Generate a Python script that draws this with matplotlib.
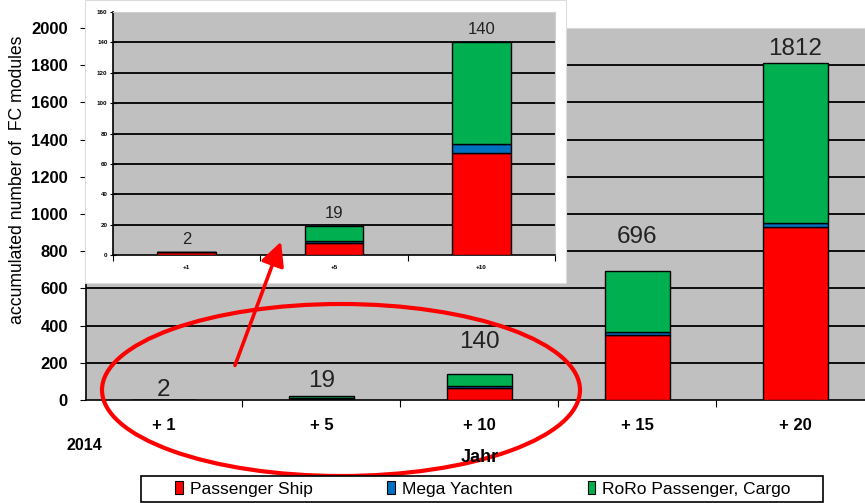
import matplotlib
matplotlib.use("Agg")
import matplotlib.pyplot as plt
import numpy as np
from matplotlib.patches import Rectangle, Ellipse, FancyArrowPatch, Patch

plt.rcParams["font.family"] = ["Liberation Sans", "DejaVu Sans"]

# data
categories = ["+ 1", "+ 5", "+ 10", "+ 15", "+ 20"]
passenger_ship = [2, 8, 67, 352, 930]
mega_yachten = [0, 1, 6, 15, 22]
roro = [0, 10, 67, 329, 860]
totals = [2, 19, 140, 696, 1812]
series_names = ["Passenger Ship", "Mega Yachten", "RoRo Passenger, Cargo"]

# styling / layout
colors = ["#ff0000", "#0070c0", "#00b050"]
GRAY = "#c0c0c0"
W, H = 865, 503
label_lift = [7, 11, 23, 24, 10]  # points above bar top, main chart
inset_n = 3


def fx(px):
    return px / W


def fy(py):
    return 1 - py / H


def stacked(ax, n, width, lw):
    x = np.arange(n)
    bottom = np.zeros(n)
    for vals, col in zip([passenger_ship, mega_yachten, roro], colors):
        v = np.array(vals[:n], dtype=float)
        ax.bar(x, v, width, bottom=bottom, color=col, edgecolor="black", linewidth=lw, zorder=3)
        bottom += v
    return x


fig = plt.figure(figsize=(W / 100, H / 100), dpi=100)

# ---- main chart
ax = fig.add_axes([fx(86), fy(400), fx(865 - 86), (400 - 28) / H])
ax.set_facecolor(GRAY)
x = stacked(ax, len(categories), 0.41, 1.0)
yticks = np.arange(0, 2001, 200)
ax.set_yticks(yticks, [str(v) for v in yticks], fontweight="bold", fontsize=12)
for v in yticks[1:-1]:
    ax.axhline(v, color="black", lw=1.3, zorder=1)
ax.set_xticks(np.arange(-0.5, 5.0, 1.0))
ax.set_xticks(x, categories, minor=True, fontweight="bold", fontsize=12)
# limits after the ticks, set_xticks would widen them otherwise
ax.set_xlim(-0.49, 4.44)
ax.set_ylim(0, 2000)
ax.tick_params(axis="x", which="major", length=5, labelbottom=False)
ax.tick_params(axis="x", which="minor", length=0, pad=13)
ax.tick_params(axis="y", length=4, pad=9)
for s in ["top", "right"]:
    ax.spines[s].set_color("#d8d8d8")
for s in ["left", "bottom"]:
    ax.spines[s].set_linewidth(1.2)
for xi, t, off in zip(x, totals, label_lift):
    ax.annotate(str(t), (xi, t), xytext=(0, off), textcoords="offset points",
                ha="center", va="center", fontsize=17.5, color="#222222")

# white card behind the zoomed inset
fig.add_artist(Rectangle((fx(85), fy(283)), fx(481), 283 / H, transform=fig.transFigure,
                         facecolor="white", edgecolor="#dddddd", linewidth=0.8, zorder=1))

# ---- inset (zoom on first three years)
ins = fig.add_axes([fx(113), fy(255), fx(442), 243 / H])
ins.set_zorder(2)
ins.set_facecolor(GRAY)
xi_ = stacked(ins, inset_n, 0.4, 1.0)
iyt = np.arange(0, 161, 20)
ins.set_yticks(iyt, [str(v) for v in iyt], fontsize=4.5, fontweight="bold")
for v in iyt[1:-1]:
    ins.axhline(v, color="black", lw=1.3, zorder=1)
ins.set_xticks(np.arange(-0.5, inset_n, 1.0))
ins.set_xticks(xi_, [c.replace(" ", "") for c in categories[:inset_n]], minor=True,
               fontsize=4.5, fontweight="bold")
ins.set_xlim(-0.5, inset_n - 0.5)
ins.set_ylim(0, 160)
ins.tick_params(axis="x", which="major", length=4, labelbottom=False)
ins.tick_params(axis="x", which="minor", length=0, pad=7)
ins.tick_params(axis="y", length=4, direction="inout", pad=2)
for s in ["top", "right"]:
    ins.spines[s].set_color("#d0d0d0")
for s in ["left", "bottom"]:
    ins.spines[s].set_linewidth(1.2)
for xx, t in zip(xi_, totals[:inset_n]):
    ins.annotate(str(t), (xx, t), xytext=(0, 9), textcoords="offset points",
                 ha="center", va="center", fontsize=12, color="#222222")

# ---- texts
fig.text(fx(18), fy(180), "accumulated number of  FC modules", rotation=90,
         ha="center", va="center", fontsize=12.7)
fig.text(fx(84), fy(446), "2014", ha="center", va="center", fontsize=11.5, fontweight="bold")
fig.text(fx(480), fy(457), "Jahr", ha="center", va="center", fontsize=13, fontweight="bold")

# ---- red highlight
fig.add_artist(Ellipse((fx(341), fy(390)), fx(478), 172 / H, transform=fig.transFigure,
                       fill=False, edgecolor="#ff0000", linewidth=3, zorder=3))
fig.add_artist(FancyArrowPatch((fx(234), fy(368)), (fx(282), fy(239)), transform=fig.transFigure,
                               arrowstyle="-|>,head_length=0.9,head_width=0.45", mutation_scale=16,
                               color="#ff0000", linewidth=2.6, zorder=4))

# ---- legend
fig.add_artist(Rectangle((fx(141), fy(502)), fx(823 - 141), 26 / H, transform=fig.transFigure,
                         facecolor="white", edgecolor="black", linewidth=1.2, zorder=5))
handles = [Patch(facecolor=c, edgecolor="black", linewidth=0.8) for c in colors]
leg = fig.legend(handles, series_names, ncol=3, loc="center", bbox_to_anchor=(fx(483), fy(489)),
                 frameon=False, fontsize=12.5, handlelength=0.45, handleheight=0.7,
                 handletextpad=0.4, columnspacing=4.3)
leg.set_zorder(6)

fig.savefig("out.png", dpi=100)
